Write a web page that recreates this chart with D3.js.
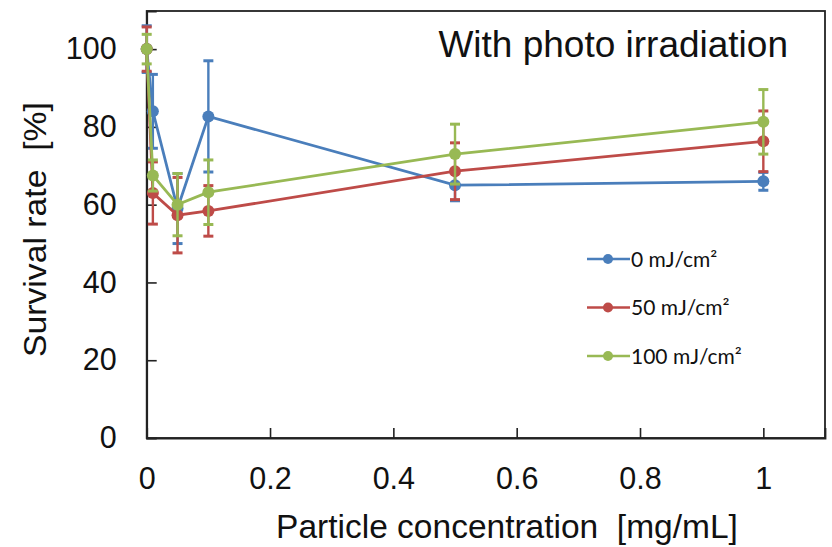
<!DOCTYPE html>
<html><head><meta charset="utf-8">
<script src="https://cdn.jsdelivr.net/npm/d3@7"></script>
<style>body{margin:0;background:#fff}</style>
</head><body>
<svg id="c" width="832" height="547"></svg>
<script>
const concentrations = [0, 0.01, 0.05, 0.1, 0.5, 1];
const seriesNames = ["0 mJ/cm²", "50 mJ/cm²", "100 mJ/cm²"];
const colors = ["#4a7ebb", "#be4b48", "#98b954"];
const values0 = [100, 84, 59, 82.7, 65, 66];
const errors0 = [6, 9.5, 9, 14.3, 4, 2.3];
const values50 = [100, 63, 57.3, 58.4, 68.6, 76.3];
const errors50 = [5.7, 8, 9.7, 6.5, 7.3, 7.8];
const values100 = [100, 67.5, 60, 63.2, 73, 81.3];
const errors100 = [3.8, 4, 8, 8.3, 7.7, 8.3];
const xTicks = [0, 0.2, 0.4, 0.6, 0.8, 1];
const yTicks = [0, 20, 40, 60, 80, 100];

const series = [
  {name: seriesNames[0], color: colors[0], v: values0, e: errors0},
  {name: seriesNames[1], color: colors[1], v: values50, e: errors50},
  {name: seriesNames[2], color: colors[2], v: values100, e: errors100}
];

const svg = d3.select("#c");
const L = 146.7, R = 825, T = 11, B = 438;
const x = d3.scaleLinear().domain([0, 1.1]).range([L, R]);
const y = d3.scaleLinear().domain([0, 109.8]).range([B, T]);
const FONT = "Liberation Sans, Arial, sans-serif";

// frame
svg.append("rect").attr("x", L).attr("y", T).attr("width", R - L).attr("height", B - T)
  .attr("fill", "none").attr("stroke", "#222").attr("stroke-width", 1.8);

// axes with inward ticks
const xa = svg.append("g").attr("transform", `translate(0,${B})`)
  .call(d3.axisBottom(x).tickValues(xTicks).tickSize(-10).tickPadding(29).tickFormat(d3.format("~g")));
const ya = svg.append("g").attr("transform", `translate(${L},0)`)
  .call(d3.axisLeft(y).tickValues(yTicks).tickSize(-10).tickPadding(30));
[xa, ya].forEach(a => {
  a.select(".domain").attr("stroke", "#222").attr("stroke-width", 1.8);
  a.selectAll(".tick line").attr("stroke", "#222").attr("stroke-width", 1.6);
  a.selectAll("text").attr("font-family", FONT).attr("font-size", 30.5).attr("fill", "#111");
});
xa.selectAll("text").attr("dy", "0.71em");
xa.selectAll(".tick").filter(d => d === 0).select("line").remove();
ya.selectAll(".tick").filter(d => d === 0).select("line").remove();

const line = d3.line().x(d => x(d[0])).y(d => y(d[1]));

series.forEach(s => {
  const g = svg.append("g");
  const pts = concentrations.map((c, i) => [c, s.v[i], s.e[i]]);
  pts.forEach(p => {
    g.append("line").attr("x1", x(p[0])).attr("x2", x(p[0]))
      .attr("y1", y(p[1] - p[2])).attr("y2", y(p[1] + p[2]))
      .attr("stroke", s.color).attr("stroke-width", 2.4);
    [p[1] - p[2], p[1] + p[2]].forEach(v => {
      g.append("line").attr("x1", x(p[0]) - 5).attr("x2", x(p[0]) + 5)
        .attr("y1", y(v)).attr("y2", y(v)).attr("stroke", s.color).attr("stroke-width", 3);
    });
  });
  g.append("path").datum(pts).attr("d", line).attr("fill", "none")
    .attr("stroke", s.color).attr("stroke-width", 2.8);
  g.selectAll("circle").data(pts).join("circle")
    .attr("cx", d => x(d[0])).attr("cy", d => y(d[1])).attr("r", 6).attr("fill", s.color);
});

// legend
series.forEach((s, i) => {
  const ly = 259 + i * 48.5;
  svg.append("line").attr("x1", 587).attr("x2", 630).attr("y1", ly).attr("y2", ly)
    .attr("stroke", s.color).attr("stroke-width", 2.6);
  svg.append("circle").attr("cx", 608).attr("cy", ly).attr("r", 5).attr("fill", s.color);
  svg.append("text").attr("x", 631).attr("y", ly).attr("dy", "0.36em")
    .attr("font-family", "Lato, Open Sans, sans-serif").attr("font-size", 21).attr("fill", "#111")
    .text(s.name);
});

// title and labels
svg.append("text").attr("x", 788).attr("y", 57).attr("text-anchor", "end")
  .attr("font-family", FONT).attr("font-size", 37).attr("fill", "#111")
  .text("With photo irradiation");
svg.append("text").attr("transform", "translate(46,229.5) rotate(-90)").attr("text-anchor", "middle")
  .attr("font-family", FONT).attr("font-size", 31).attr("fill", "#111")
  .attr("textLength", 255).attr("lengthAdjust", "spacingAndGlyphs")
  .style("white-space", "pre")
  .text("Survival rate  [%]");
svg.append("text").attr("x", 507).attr("y", 538).attr("text-anchor", "middle")
  .attr("font-family", FONT).attr("font-size", 33.5).attr("fill", "#111")
  .style("white-space", "pre")
  .text("Particle concentration  [mg/mL]");
</script>
</body></html>
